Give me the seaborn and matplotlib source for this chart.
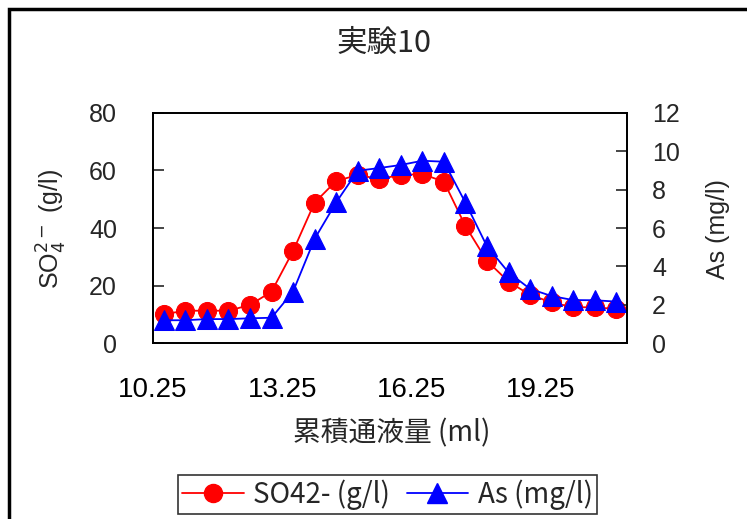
import matplotlib
matplotlib.use("Agg")
import matplotlib.pyplot as plt
import seaborn as sns
import pandas as pd
from matplotlib.patches import Rectangle
from matplotlib.lines import Line2D

# ---- data ----
volume = [10.5, 11.0, 11.5, 12.0, 12.5, 13.0, 13.5, 14.0, 14.5, 15.0, 15.5,
          16.0, 16.5, 17.0, 17.5, 18.0, 18.5, 19.0, 19.5, 20.0, 20.5, 21.0]
so4 = [10.1, 11.3, 11.3, 11.3, 13.3, 17.9, 32.0, 48.8, 56.3, 58.4, 57.0,
       58.4, 58.7, 56.1, 40.7, 28.6, 21.4, 16.8, 14.2, 12.5, 12.5, 11.9]
as_ = [1.20, 1.20, 1.26, 1.26, 1.30, 1.33, 2.69, 5.43, 7.33, 8.98, 9.12,
       9.28, 9.50, 9.45, 7.32, 5.05, 3.69, 2.83, 2.46, 2.25, 2.24, 2.17]
xticks = [10.25, 13.25, 16.25, 19.25]
xtick_labels = ["10.25", "13.25", "16.25", "19.25"]
left_ticks = [0, 20, 40, 60, 80]
right_ticks = [0, 2, 4, 6, 8, 10, 12]
title = "実験10"
xlabel = "累積通液量 (ml)"
label_so4 = "SO42- (g/l)"
label_as = "As (mg/l)"

df = pd.DataFrame({"volume": volume, "so4": so4, "as": as_})

sns.set_style("white")
plt.rcParams["font.family"] = ["Liberation Sans", "DejaVu Sans"]
cjk = ["Noto Sans CJK JP", "DejaVu Sans"]

W, H = 747, 519
fig = plt.figure(figsize=(W / 100, H / 100), dpi=100)
ax1 = fig.add_axes([153 / W, 1 - 343.3 / H, (627 - 153) / W, (343.3 - 112.7) / H])
ax2 = ax1.twinx()

sns.lineplot(data=df, x="volume", y="so4", ax=ax1, color="red", marker="o",
             markersize=13, markeredgecolor="red", linewidth=1.3)
sns.lineplot(data=df, x="volume", y="as", ax=ax2, color="blue", marker="^",
             markersize=14, markeredgecolor="blue", linewidth=1.3)

ax1.set_xlim(10.25, 21.25)
ax1.set_ylim(0, 80)
ax2.set_ylim(0, 12)
ax1.set_xticks(xticks)
ax1.set_xticklabels(xtick_labels, family=["Liberation Sans Narrow", "Liberation Sans"], fontsize=20)
ax1.set_yticks(left_ticks)
ax2.set_yticks(right_ticks)

ax1.tick_params(axis="x", direction="in", length=8, width=1.2, pad=24, colors="black")
ax1.tick_params(axis="y", direction="in", length=8, width=1.2, pad=26, labelsize=18)
ax2.tick_params(axis="y", direction="in", length=8, width=1.2, pad=18, labelsize=18)

for ax in (ax1, ax2):
    for s in ax.spines.values():
        s.set_visible(True)
        s.set_color("black")
        s.set_linewidth(1.3)

ax1.set_xlabel("")
ax1.set_ylabel("")
ax2.set_ylabel("")

fig.text(392 / W, 1 - 433 / H, xlabel, family=cjk, fontsize=20, ha="center", va="center")
fig.text(384 / W, 1 - 43 / H, title, family=cjk, fontsize=22, ha="center", va="center")
fig.text(52 / W, 1 - 229 / H, r"SO$_4^{2-}$ (g/l)", fontsize=18, rotation=90,
         ha="center", va="center")
fig.text(718 / W, 1 - 229 / H, label_as, fontsize=18, rotation=90,
         ha="center", va="center")

handles = [
    Line2D([], [], color="red", marker="o", markersize=13, linewidth=1.3),
    Line2D([], [], color="blue", marker="^", markersize=14, linewidth=1.3),
]
leg = fig.legend(handles, [label_so4, label_as], loc="center",
                 bbox_to_anchor=(387.5 / W, 1 - 494.5 / H), ncol=2,
                 frameon=True, fancybox=False, edgecolor="black",
                 prop={"family": cjk, "size": 20}, handlelength=2.2,
                 handletextpad=0.35, columnspacing=0.6, borderpad=0.15,
                 borderaxespad=0)
leg.get_frame().set_linewidth(1.2)

fig.patches.append(Rectangle((9 / W, -0.1), 2, 1 - 9 / H + 0.1,
                             transform=fig.transFigure, fill=False,
                             edgecolor="black", linewidth=2.5))

fig.savefig("out.png", dpi=100)
